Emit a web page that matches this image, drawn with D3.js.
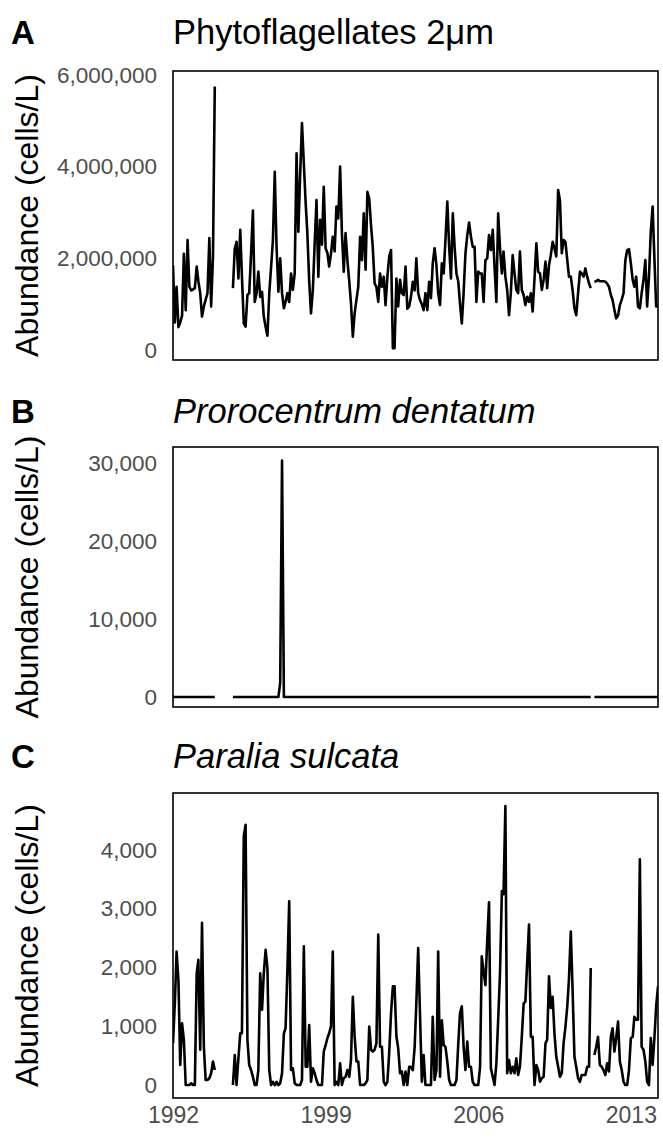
<!DOCTYPE html>
<html><head><meta charset="utf-8">
<script src="https://cdn.jsdelivr.net/npm/d3@7/dist/d3.min.js"></script>
<style>
body{margin:0;background:#fff}
text{font-family:"Liberation Sans",Arial,Helvetica,sans-serif}
</style>
</head><body>
<svg id="chart" width="663" height="1138"></svg>
<script>
// ---------- data (monthly samples from Jan 1992) ----------
const startYear = 1992, startMonth = 0, endYear = 2014, endMonth = 3;
const xTickYears = [1992, 1999, 2006, 2013];

const phytoflagellates = [
 1850000,600000,1380000,500000,600000,750000,2100000,870000,2400000,1380000,1300000,1320000,
 1350000,1820000,1500000,1240000,730000,950000,1100000,1240000,2440000,950000,2040000,5750000,
 null,null,null,null,null,null,null,null,null,
 1350000,2220000,2360000,1560000,2620000,1600000,580000,510000,1200000,1240000,
 2100000,3040000,1050000,1240000,1710000,1160000,1270000,730000,500000,310000,
 1240000,1800000,2400000,3890000,2250000,1270000,2000000,1240000,910000,1050000,
 1240000,1050000,1670000,1310000,1670000,4290000,2580000,3850000,4950000,4070000,
 3200000,2550000,1500000,800000,1310000,2300000,3270000,1600000,2840000,2300000,
 3560000,2220000,2110000,1820000,2100000,2470000,2150000,3130000,2870000,4000000,
 2550000,1710000,2550000,1960000,1500000,1020000,290000,800000,1100000,1380000,
 2470000,1960000,2980000,1750000,3450000,3300000,2700000,2250000,1450000,1380000,
 1050000,1670000,1380000,1600000,980000,1600000,2040000,2180000,40000,40000,
 1560000,950000,1530000,1240000,1200000,1820000,900000,950000,1160000,1490000,
 1300000,2000000,1240000,1090000,1000000,870000,1240000,870000,1490000,1130000,
 1890000,2220000,1850000,1240000,980000,1890000,1670000,2400000,3240000,2250000,
 1560000,2980000,2250000,1670000,1490000,1020000,580000,1240000,2110000,2500000,
 2780000,2470000,2250000,2250000,1050000,1710000,1670000,1670000,1050000,1960000,
 2000000,2510000,2180000,2620000,1820000,1050000,2980000,2220000,1670000,2150000,
 1600000,1310000,760000,1240000,2070000,1670000,1310000,1240000,2150000,1310000,
 1200000,980000,1160000,1050000,1240000,840000,1560000,2330000,1710000,1670000,
 1310000,1530000,1930000,1350000,1850000,2070000,2360000,2220000,2040000,3490000,
 3270000,2110000,2400000,2360000,1960000,1600000,1600000,1310000,910000,760000,
 1240000,1710000,1670000,1600000,1780000,1600000,1450000,1350000,
 null,
 1490000,1500000,1530000,1500000,1500000,1500000,1490000,1450000,1380000,1200000,
 1090000,870000,690000,750000,980000,1100000,1240000,1960000,2180000,2200000,
 1890000,1530000,1380000,1600000,950000,910000,1240000,1530000,1960000,950000,
 1600000,2580000,3130000,1960000,950000,950000
];

const prorocentrum = [
 0,0,0,0,0,0,0,0,0,0,0,0,
 0,0,0,0,0,0,0,0,0,0,0,0,
 null,null,null,null,null,null,null,null,null,
 0,0,0,0,0,0,0,0,0,0,
 0,0,0,0,0,0,0,0,0,0,
 0,0,0,0,0,0,1800,30300,0,0,
 0,0,0,0,0,0,0,0,0,0,0,0,
 0,0,0,0,0,0,0,0,0,0,0,0,
 0,0,0,0,0,0,0,0,0,0,0,0,
 0,0,0,0,0,0,0,0,0,0,0,0,
 0,0,0,0,0,0,0,0,0,0,0,0,
 0,0,0,0,0,0,0,0,0,0,0,0,
 0,0,0,0,0,0,0,0,0,0,0,0,
 0,0,0,0,0,0,0,0,0,0,0,0,
 0,0,0,0,0,0,0,0,0,0,0,0,
 0,0,0,0,0,0,0,0,0,0,0,0,
 0,0,0,0,0,0,0,0,0,0,0,0,
 0,0,0,0,0,0,0,0,0,0,0,0,
 0,0,0,0,0,0,0,0,0,0,0,0,
 0,0,0,0,0,0,0,0,0,0,0,0,
 null,
 0,0,0,0,0,0,0,0,0,0,0,0,
 0,0,0,0,0,0,0,0,0,0,0,0,
 0,0,0,0,0,0,0,0,0,0,0,0
];

const paralia = [
 710,1400,2270,1790,340,1050,770,0,0,0,30,0,
 0,1900,2130,600,2760,650,85,85,115,200,400,255,
 null,null,null,null,null,null,null,null,null,
 0,510,0,455,880,880,4230,4430,770,340,
 255,140,0,0,255,1900,1280,1900,2300,1990,
 255,0,55,0,55,0,30,200,880,970,
 1960,3125,255,285,30,0,0,0,85,2360,
 310,310,1020,55,285,200,85,0,0,0,
 570,680,800,880,1000,2270,0,55,0,370,
 0,115,140,255,140,430,1500,830,400,400,
 0,0,0,30,85,995,600,570,600,710,
 2560,650,650,55,0,55,540,1220,1680,1680,
 830,625,200,230,0,230,0,310,310,255,
 650,1400,2330,1220,55,510,0,0,0,0,
 1160,85,255,2270,140,1100,680,650,400,85,
 0,0,0,85,710,1220,1340,650,255,740,
 310,310,55,0,0,0,310,2190,1930,1700,
 2470,3110,285,140,0,370,1110,1900,3300,3250,
 4750,200,425,200,310,200,455,170,310,820,
 1390,1420,2100,2730,820,820,0,340,255,55,
 115,140,710,770,1850,1310,1500,880,480,310,
 140,200,710,990,1340,1800,2610,1620,480,310,
 115,55,170,170,170,310,310,1990,
 null,
 510,650,820,340,310,255,170,370,230,820,
 965,570,800,1080,400,255,55,0,0,255,
 800,820,1160,1110,1110,3840,650,600,400,55,
 0,800,340,820,1340,1680
];

const ticksA = [0, 2000000, 4000000, 6000000];
const ticksB = [0, 10000, 20000, 30000];
const ticksC = [0, 1000, 2000, 3000, 4000];

const panelLetters = ["A", "B", "C"];
const panelTitles = ["Phytoflagellates 2\u03bcm", "Prorocentrum dentatum", "Paralia sulcata"];
const yTitle = "Abundance (cells/L)";

// ---------- layout ----------
const svg = d3.select("#chart");
const left = 173, right = 658;
const t0 = new Date(startYear, startMonth, 1);
const x = d3.scaleTime().domain([t0, new Date(endYear, endMonth, 1)]).range([left, right]);

const panels = [
  {values: phytoflagellates, ticks: ticksA, domain: [-218000, 6087000], top: 71, bottom: 360, titleY: 44, italic: false},
  {values: prorocentrum, ticks: ticksB, domain: [-1282, 32050], top: 447, bottom: 707, titleY: 423, italic: true},
  {values: paralia, ticks: ticksC, domain: [-221, 4970], top: 793, bottom: 1098, titleY: 768, italic: true}
];

panels.forEach((p, i) => {
  const g = svg.append("g");
  const y = d3.scaleLinear().domain(p.domain).range([p.bottom, p.top]);
  const data = p.values.map((v, k) => ({date: d3.timeMonth.offset(t0, k), v}));

  // panel letter and title
  g.append("text").attr("x", 11).attr("y", p.titleY)
    .attr("font-size", 33).attr("font-weight", "bold").attr("fill", "#000")
    .text(panelLetters[i]);
  g.append("text").attr("x", left).attr("y", p.titleY)
    .attr("font-size", 34.5).attr("font-style", p.italic ? "italic" : "normal").attr("fill", "#000")
    .text(panelTitles[i]);

  // y axis title
  g.append("text")
    .attr("transform", `translate(38,${(p.top + p.bottom) / 2}) rotate(-90)`)
    .attr("text-anchor", "middle").attr("font-size", 32).attr("fill", "#000")
    .text(yTitle);

  // y axis
  const ya = g.append("g").attr("transform", `translate(${left},0)`)
    .call(d3.axisLeft(y).tickValues(p.ticks).tickSize(0).tickPadding(16).tickFormat(d3.format(",")));
  ya.select(".domain").remove();
  ya.selectAll("text").attr("font-size", 22.5).attr("fill", "#4d4d4d")
    .attr("font-family", "'Liberation Sans',Arial,sans-serif");

  // clip
  const cid = "clip" + i;
  g.append("clipPath").attr("id", cid).append("rect")
    .attr("x", left).attr("y", p.top).attr("width", right - left).attr("height", p.bottom - p.top);

  // line
  const line = d3.line().defined(d => d.v !== null)
    .x(d => x(d.date)).y(d => y(d.v));
  g.append("path").datum(data).attr("clip-path", `url(#${cid})`)
    .attr("fill", "none").attr("stroke", "#000").attr("stroke-width", 2.6)
    .attr("stroke-linejoin", "round").attr("d", line);

  // box
  g.append("rect").attr("x", left).attr("y", p.top)
    .attr("width", right - left).attr("height", p.bottom - p.top)
    .attr("fill", "none").attr("stroke", "#000").attr("stroke-width", 1.6);

  // x axis only on last panel
  if (i === panels.length - 1) {
    const xa = g.append("g").attr("transform", `translate(0,${p.bottom})`)
      .call(d3.axisBottom(x).tickValues(xTickYears.map(yr => new Date(yr, 0, 1)))
        .tickSize(0).tickPadding(9).tickFormat(d3.timeFormat("%Y")));
    xa.select(".domain").remove();
    xa.selectAll("text").attr("font-size", 23).attr("fill", "#4d4d4d")
      .attr("font-family", "'Liberation Sans',Arial,sans-serif");
  }
});
</script>
</body></html>
